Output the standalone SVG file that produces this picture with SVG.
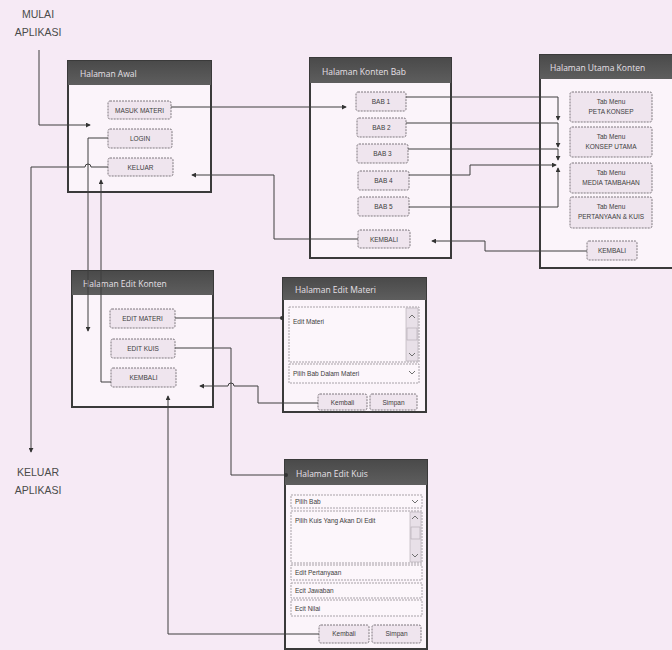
<svg xmlns="http://www.w3.org/2000/svg" width="672" height="650" viewBox="0 0 672 650">
<style>
.win{fill:#fbf4fa;stroke:#3a3a3a;stroke-width:2}
.bar{fill:url(#barg)}
.ttl{font-family:"Open Sans","DejaVu Sans",sans-serif;font-size:8.5px;fill:#e6e0e6}
.btn{fill:#efe5ee;stroke:#7e787e;stroke-width:1;stroke-dasharray:2 1}
.bt{font-family:"Liberation Sans",Arial,sans-serif;font-size:6.5px;fill:#404040;text-anchor:middle}
.fld{fill:#fcf6fb;stroke:#a8a2a8;stroke-width:1;stroke-dasharray:2 1}
.ft{font-family:"Liberation Sans",Arial,sans-serif;font-size:6.5px;fill:#404040}
.lbl{font-family:"Liberation Sans",Arial,sans-serif;font-size:10.5px;fill:#4a4a4a;text-anchor:middle}
.cn{fill:none;stroke:#3e3e3e;stroke-width:1}
.sb{fill:#e8e0e8;stroke:#b0a8b0;stroke-width:0.6}
.chev{fill:none;stroke:#707070;stroke-width:1}
</style>
<defs>
<linearGradient id="barg" x1="0" y1="0" x2="0" y2="1">
<stop offset="0" stop-color="#4a4a4a"/>
<stop offset="1" stop-color="#5e5e5e"/>
</linearGradient>
<marker id="ah" viewBox="0 0 6 6" refX="5" refY="3" markerWidth="5" markerHeight="5" orient="auto" markerUnits="userSpaceOnUse">
<path d="M0,0 L6,3 L0,6 z" fill="#333"/>
</marker>
<marker id="dot" viewBox="0 0 4 4" refX="2" refY="2" markerWidth="4" markerHeight="4" markerUnits="userSpaceOnUse">
<circle cx="2" cy="2" r="2" fill="#333"/>
</marker>
</defs>
<rect width="672" height="650" fill="#f6eaf5"/>

<g id="start-label">
<text class="lbl" x="38" y="18">MULAI</text>
<text class="lbl" x="38" y="36">APLIKASI</text>
</g>
<g id="exit-label">
<text class="lbl" x="38" y="476">KELUAR</text>
<text class="lbl" x="38" y="494">APLIKASI</text>
</g>

<g id="halaman-awal">
<rect class="win" x="68" y="61" width="143" height="131"/>
<rect class="bar" x="68" y="61" width="143" height="24"/>
<text class="ttl" x="80" y="77">Halaman Awal</text>
<rect class="btn" x="108" y="101" width="63" height="18" rx="2"/>
<text class="bt" x="139.5" y="112.5">MASUK MATERI</text>
<rect class="btn" x="108" y="129" width="64" height="19" rx="2"/>
<text class="bt" x="140" y="141">LOGIN</text>
<rect class="btn" x="108" y="158" width="65" height="18" rx="2"/>
<text class="bt" x="140.5" y="169.5">KELUAR</text>
</g>

<g id="halaman-konten-bab">
<rect class="win" x="310" y="58" width="141" height="200"/>
<rect class="bar" x="310" y="58" width="141" height="25"/>
<text class="ttl" x="322" y="75">Halaman Konten Bab</text>
<rect class="btn" x="356" y="92" width="50" height="19" rx="2"/>
<text class="bt" x="381" y="104">BAB 1</text>
<rect class="btn" x="357" y="118" width="49" height="19" rx="2"/>
<text class="bt" x="381.5" y="130">BAB 2</text>
<rect class="btn" x="357" y="144" width="51" height="19" rx="2"/>
<text class="bt" x="382.5" y="156">BAB 3</text>
<rect class="btn" x="358" y="171" width="51" height="19" rx="2"/>
<text class="bt" x="383.5" y="183">BAB 4</text>
<rect class="btn" x="358" y="197" width="51" height="19" rx="2"/>
<text class="bt" x="383.5" y="209">BAB 5</text>
<rect class="btn" x="358" y="230" width="52" height="18" rx="2"/>
<text class="bt" x="384" y="241.5">KEMBALI</text>
</g>

<g id="halaman-utama-konten">
<rect class="win" x="540" y="55" width="133" height="213"/>
<rect class="bar" x="540" y="55" width="133" height="24"/>
<text class="ttl" x="550" y="71">Halaman Utama Konten</text>
<rect class="btn" x="570" y="92" width="82" height="30" rx="2"/>
<text class="bt" x="611" y="104">Tab Menu</text>
<text class="bt" x="611" y="114">PETA KONSEP</text>
<rect class="btn" x="570" y="127" width="82" height="30" rx="2"/>
<text class="bt" x="611" y="139">Tab Menu</text>
<text class="bt" x="611" y="149">KONSEP UTAMA</text>
<rect class="btn" x="570" y="163" width="82" height="30" rx="2"/>
<text class="bt" x="611" y="175">Tab Menu</text>
<text class="bt" x="611" y="185">MEDIA TAMBAHAN</text>
<rect class="btn" x="570" y="197" width="82" height="31" rx="2"/>
<text class="bt" x="611" y="209">Tab Menu</text>
<text class="bt" x="611" y="219">PERTANYAAN &amp; KUIS</text>
<rect class="btn" x="587" y="241" width="50" height="19" rx="2"/>
<text class="bt" x="612" y="253">KEMBALI</text>
</g>

<g id="halaman-edit-konten">
<rect class="win" x="72" y="271" width="141" height="136"/>
<rect class="bar" x="72" y="271" width="141" height="24"/>
<text class="ttl" x="83" y="287">Halaman Edit Konten</text>
<rect class="btn" x="110" y="309" width="65" height="19" rx="2"/>
<text class="bt" x="142.5" y="321">EDIT MATERI</text>
<rect class="btn" x="111" y="339" width="64" height="19" rx="2"/>
<text class="bt" x="143" y="351">EDIT KUIS</text>
<rect class="btn" x="111" y="368" width="65" height="19" rx="2"/>
<text class="bt" x="143.5" y="380">KEMBALI</text>
</g>

<g id="halaman-edit-materi">
<rect class="win" x="283" y="278" width="143" height="134"/>
<rect class="bar" x="283" y="278" width="143" height="22"/>
<text class="ttl" x="295" y="293">Halaman Edit Materi</text>
<rect class="fld" x="289" y="307" width="130" height="55"/>
<text class="ft" x="293" y="324">Edit Materi</text>
<rect class="sb" x="406" y="308" width="12" height="53"/>
<rect class="sb" x="407" y="328" width="10" height="12"/>
<path class="chev" d="M409,318 l3,-3 l3,3"/>
<path class="chev" d="M409,353 l3,3 l3,-3"/>
<rect class="fld" x="289" y="364" width="130" height="19"/>
<text class="ft" x="293" y="376">Pilih Bab Dalam Materi</text>
<path class="chev" d="M409,371 l3,3 l3,-3"/>
<rect class="btn" x="318" y="394" width="49" height="16" rx="2"/>
<text class="bt" x="342.5" y="404.5">Kembali</text>
<rect class="btn" x="370" y="394" width="47" height="16" rx="2"/>
<text class="bt" x="393.5" y="404.5">Simpan</text>
</g>

<g id="halaman-edit-kuis">
<rect class="win" x="285" y="460" width="142" height="189"/>
<rect class="bar" x="285" y="460" width="142" height="25"/>
<text class="ttl" x="296" y="477">Halaman Edit Kuis</text>
<rect class="fld" x="291" y="495" width="131" height="13"/>
<text class="ft" x="295" y="504">Pilih Bab</text>
<path class="chev" d="M412,500 l3,3 l3,-3"/>
<rect class="fld" x="291" y="511" width="131" height="52"/>
<text class="ft" x="295" y="523">Pilih Kuis Yang Akan Di Edit</text>
<rect class="sb" x="410" y="512" width="11" height="50"/>
<rect class="sb" x="411" y="527" width="9" height="12"/>
<path class="chev" d="M412,519 l3,-3 l3,3"/>
<path class="chev" d="M412,554 l3,3 l3,-3"/>
<rect class="fld" x="291" y="565" width="131" height="15"/>
<text class="ft" x="295" y="575">Edit Pertanyaan</text>
<rect class="fld" x="291" y="583" width="131" height="15"/>
<text class="ft" x="295" y="593">Ecit Jawaban</text>
<rect class="fld" x="291" y="600" width="131" height="16"/>
<text class="ft" x="295" y="611">Ecit Nilai</text>
<rect class="btn" x="319" y="625" width="50" height="18" rx="2"/>
<text class="bt" x="344" y="636">Kembali</text>
<rect class="btn" x="372" y="625" width="49" height="18" rx="2"/>
<text class="bt" x="396.5" y="636">Simpan</text>
</g>

<g id="connectors">
<path class="cn" d="M39,50 V125 H90" marker-end="url(#ah)"/>
<path class="cn" d="M171,107 H346" marker-end="url(#ah)"/>
<path class="cn" d="M108,138 H88 V331" marker-end="url(#ah)"/>
<path class="cn" d="M108,167 H91 A3,3 0 0 0 85,167 H31 V452" marker-end="url(#ah)"/>
<path class="cn" d="M111,382 H101 V180" marker-end="url(#ah)"/>
<path class="cn" d="M175,318 H282" marker-end="url(#dot)"/>
<path class="cn" d="M175,348 H231 V475 H286" marker-end="url(#dot)"/>
<path class="cn" d="M318,403 H258 V386 H234 A3,3 0 0 0 228,386 H200" marker-end="url(#ah)"/>
<path class="cn" d="M319,634 H168 V396" marker-end="url(#ah)"/>
<path class="cn" d="M358,239 H274 V175 H192" marker-end="url(#ah)"/>
<path class="cn" d="M406,97 H558 V120" marker-end="url(#ah)"/>
<path class="cn" d="M406,123 H558 V147" marker-end="url(#ah)"/>
<path class="cn" d="M408,149 H558 V160" marker-end="url(#ah)"/>
<path class="cn" d="M409,175 H470 V165 H556" marker-end="url(#ah)"/>
<path class="cn" d="M409,207 H558 V168" marker-end="url(#ah)"/>
<path class="cn" d="M587,251 H485 V241 H432" marker-end="url(#ah)"/>
</g>
</svg>
